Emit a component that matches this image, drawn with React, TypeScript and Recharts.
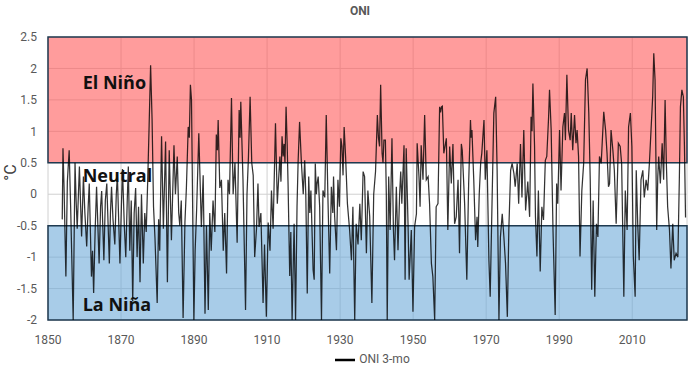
import {
  LineChart, Line, XAxis, YAxis, CartesianGrid, ReferenceArea, ReferenceDot, Legend
} from 'recharts';

const oni1853to1872: [number, number][] = [
  [1853.9, -0.4], [1854.1, 0.73], [1854.4, 0.1], [1854.9, -1.31], [1855.3, 0.2], [1855.8, 0.7],
  [1856.2, -0.2], [1856.9, -2.0], [1857.4, 0.5], [1857.7, -0.1], [1858.0, -0.55], [1858.6, 0.44],
  [1859.2, -0.67], [1859.7, 0.28], [1860.1, -0.3], [1860.6, -0.83], [1861.0, -0.2], [1861.3, 0.17],
  [1861.9, -1.31], [1862.2, -0.9], [1862.5, -1.57], [1862.9, -0.6], [1863.3, 0.12], [1863.6, -0.4],
  [1864.0, -1.1], [1864.4, -0.2], [1864.7, 0.05], [1865.3, -1.05], [1865.7, -0.1], [1866.1, 0.17],
  [1866.8, -1.1], [1867.1, -0.3], [1867.4, 0.12], [1867.8, -0.4], [1868.3, -0.8], [1868.7, 0.0],
  [1869.0, 0.3], [1869.7, -1.1], [1870.1, -0.2], [1870.4, 0.4], [1870.9, -0.5], [1871.3, -1.0],
  [1871.7, -0.1], [1872.0, 0.44],
];

const oni1872to1893: [number, number][] = [
  [1872.4, -0.9], [1872.8, -0.1], [1873.2, -1.7], [1873.6, -0.3], [1874.0, 0.1], [1874.4, -1.0],
  [1874.8, -0.2], [1875.2, -1.4], [1875.6, 0.0], [1876.1, -1.1], [1876.5, -0.3], [1876.9, -0.6],
  [1877.3, 0.2], [1877.7, 1.1], [1878.1, 2.05], [1878.5, 1.2], [1878.9, -0.2], [1879.3, -0.7],
  [1879.9, -1.73], [1880.3, -0.4], [1880.6, -0.9], [1881.1, 0.92], [1881.6, -0.55], [1882.2, 0.84],
  [1882.7, -1.4], [1883.2, 0.7], [1883.8, -0.73], [1884.5, 0.78], [1884.9, 0.0], [1885.4, 0.6],
  [1885.8, -0.3], [1886.1, -0.5], [1886.5, -0.1], [1887.0, -1.97], [1887.5, -0.45], [1887.9, 0.1],
  [1888.4, 1.07], [1888.7, 0.9], [1889.0, 1.74], [1889.3, 1.5], [1889.95, -2.0], [1890.3, -0.9],
  [1890.7, -0.25], [1891.3, 0.97], [1892.0, -0.52], [1892.5, 0.3], [1893.0, -1.9], [1893.4, -0.5],
];

const oni1893to1915: [number, number][] = [
  [1893.9, -1.84], [1894.3, -0.3], [1894.7, -0.9], [1895.2, -0.1], [1895.7, -0.6], [1896.1, 0.95],
  [1896.4, 0.7], [1896.6, 1.18], [1897.05, 0.1], [1897.5, 0.23], [1898.0, -0.9], [1898.4, -0.3],
  [1898.9, -1.26], [1899.3, 0.23], [1899.7, 0.0], [1900.25, 1.53], [1900.7, 0.0], [1901.2, 0.5],
  [1901.8, -0.77], [1902.35, 1.34], [1902.6, 0.9], [1902.8, 1.47], [1903.4, 0.23], [1904.1, -1.84],
  [1904.5, 0.0], [1904.9, 0.6], [1905.35, 1.55], [1905.8, 0.5], [1906.2, 0.3], [1906.6, -1.0],
  [1907.1, -0.55], [1907.5, 0.17], [1907.8, -0.52], [1908.3, -0.3], [1908.9, -1.73], [1909.3, -0.8],
  [1909.8, -1.95], [1910.3, -0.45], [1910.8, -0.9], [1911.2, 0.06], [1911.65, -0.55], [1912.3, 1.13],
  [1912.8, -0.15], [1913.5, 0.6], [1913.8, 0.2], [1914.1, 0.92], [1914.4, 0.6], [1914.65, 0.8],
  [1914.9, 0.5],
];

const oni1915to1937: [number, number][] = [
  [1915.2, 1.39], [1915.5, 0.8], [1915.75, 0.15], [1916.2, -1.3], [1916.5, -0.6], [1916.85, -2.0],
  [1917.4, -0.47], [1917.8, -2.0], [1918.2, -0.2], [1918.5, 0.52], [1918.9, 1.15], [1919.4, 0.5],
  [1919.9, 0.0], [1920.3, 0.54], [1920.6, 0.0], [1921.0, -1.58], [1921.4, 0.28], [1921.7, -0.3],
  [1922.0, 0.06], [1922.6, -1.2], [1922.9, -1.36], [1923.2, 0.49], [1923.5, 0.0], [1923.7, 0.17],
  [1924.0, 0.28], [1924.4, -0.2], [1924.9, -2.0], [1925.3, 0.06], [1925.8, -0.05], [1926.2, 1.26],
  [1926.7, -0.15], [1927.15, -1.26], [1927.6, 0.12], [1928.0, -0.3], [1928.2, 0.28], [1928.5, -0.35],
  [1929.0, -0.89], [1929.4, 0.23], [1929.8, -0.2], [1930.2, 0.89], [1930.5, 0.76], [1930.8, 0.3],
  [1931.1, 1.07], [1931.5, 0.6], [1932.0, -0.15], [1932.6, -0.57], [1933.1, -1.05], [1933.5, -0.2],
  [1934.0, -2.0], [1934.4, -0.47], [1934.9, -0.8], [1935.4, -0.15], [1935.8, -0.73], [1936.3, 0.36],
  [1936.7, 0.28], [1937.2, -0.94], [1937.6, 0.06],
];

const oni1938to1959: [number, number][] = [
  [1938.1, -0.35], [1938.7, -1.73], [1939.2, 0.0], [1939.7, 0.36], [1940.2, 1.26], [1940.5, 0.9],
  [1940.8, 0.76], [1941.1, 1.74], [1941.5, 0.65], [1941.75, 0.5], [1942.0, 0.86], [1942.4, 0.86],
  [1942.65, 0.0], [1942.9, -2.0], [1943.3, 0.28], [1943.7, -0.57], [1944.2, 0.89], [1944.6, -0.57],
  [1944.9, -1.05], [1945.4, 0.12], [1945.85, -0.89], [1946.3, 0.0], [1946.6, 0.36], [1946.9, -0.15],
  [1947.5, 0.78], [1947.8, -1.36], [1948.1, 0.73], [1948.6, -0.47], [1948.9, -1.36], [1949.5, -0.57],
  [1949.95, -1.87], [1950.4, -0.52], [1950.9, -0.31], [1951.1, 0.81], [1951.6, 0.28], [1951.9, -0.2],
  [1952.2, 0.78], [1952.7, 0.23], [1953.15, 1.26], [1953.6, 0.23], [1954.1, 0.28], [1954.5, -0.15],
  [1955.0, -1.1], [1955.4, -1.31], [1955.9, -2.0], [1956.3, -0.2], [1956.8, -0.15], [1957.25, 1.39],
  [1957.5, 1.3], [1957.75, 1.39], [1958.0, 1.4], [1958.4, 0.65], [1959.1, 0.89], [1959.5, -0.57],
];

const oni1960to1981: [number, number][] = [
  [1960.0, 0.76], [1960.45, 0.17], [1960.9, 0.8], [1961.35, -0.47], [1961.8, -0.36], [1962.3, 0.23],
  [1962.7, -0.94], [1963.2, 0.8], [1963.45, 0.7], [1964.1, -0.15], [1964.7, -1.36], [1965.2, 0.17],
  [1965.7, 1.18], [1965.9, 0.9], [1966.1, 1.02], [1966.6, 0.23], [1967.1, -0.73], [1967.5, -0.36],
  [1967.7, -0.84], [1968.1, 0.0], [1968.5, 0.5], [1968.8, 0.65], [1969.4, 1.18], [1969.75, 0.23],
  [1970.2, 0.7], [1970.75, -1.05], [1971.1, -1.63], [1971.6, -0.15], [1972.1, 1.29], [1972.6, 1.55],
  [1973.0, 0.38], [1973.5, -2.0], [1973.9, -0.68], [1974.4, -0.31], [1974.85, -0.68], [1975.3, -1.1],
  [1975.8, -1.95], [1976.2, -0.57], [1976.7, 0.38], [1977.1, 0.49], [1977.6, 0.33], [1977.95, 0.12],
  [1978.5, 0.49], [1978.9, -0.15], [1979.4, 0.8], [1979.8, -0.05], [1980.3, 1.02], [1980.8, -0.26],
  [1981.4, 0.2],
];

const oni1982to2003: [number, number][] = [
  [1981.9, -0.36], [1982.3, 1.23], [1982.55, 1.0], [1982.8, 1.76], [1983.25, 0.76], [1983.5, -0.36],
  [1983.9, -0.99], [1984.3, 0.06], [1984.8, -1.23], [1985.25, -0.2], [1985.7, -0.41], [1986.2, 0.54],
  [1986.6, 0.6], [1987.1, 1.23], [1987.35, 1.66], [1987.8, 1.02], [1988.3, -0.57], [1988.9, -1.92],
  [1989.3, 0.17], [1989.6, -0.15], [1990.1, 1.02], [1990.5, 0.06], [1991.0, 1.07], [1991.45, 1.29],
  [1991.7, 0.86], [1992.1, 1.9], [1992.55, 1.02], [1993.0, 0.86], [1993.3, 1.29], [1993.7, 0.7],
  [1994.2, 1.26], [1994.6, 0.81], [1994.9, 1.02], [1995.3, 0.6], [1995.7, -0.99], [1996.2, 0.06],
  [1996.7, 0.49], [1997.2, 1.82], [1997.65, 2.0], [1998.1, 1.29], [1998.5, 0.23], [1998.9, -1.52],
  [1999.3, -0.1], [1999.75, -1.63], [2000.2, -0.47], [2000.6, -0.68], [2001.03, 0.6], [2001.5, 0.49],
  [2002.2, 1.31], [2002.7, 1.02], [2003.1, 0.65], [2003.5, 0.12],
];

const oni2004to2024: [number, number][] = [
  [2003.8, 0.17], [2004.2, 1.02], [2004.7, 0.7], [2005.1, 0.38], [2005.6, -0.47], [2005.86, 0.06],
  [2006.2, 0.81], [2006.7, 0.76], [2007.1, 0.49], [2007.7, -1.63], [2008.1, 0.06], [2008.6, -0.57],
  [2009.0, 1.07], [2009.5, 1.29], [2009.9, 0.76], [2010.3, -0.99], [2010.8, -1.63], [2011.1, 0.38],
  [2011.5, -0.47], [2011.9, -1.05], [2012.4, 0.23], [2012.9, 0.38], [2013.3, -0.05], [2013.8, 0.23],
  [2014.25, 0.06], [2014.7, 0.49], [2015.15, 1.02], [2015.6, 1.55], [2015.9, 2.24], [2016.25, 1.82],
  [2016.7, -0.57], [2017.0, 0.28], [2017.25, 0.6], [2017.7, 0.17], [2018.2, 0.81], [2018.6, 0.23],
  [2019.0, 1.5], [2019.35, 0.49], [2019.7, -0.2], [2020.2, -0.57], [2020.6, -1.18], [2021.1, -0.47],
  [2021.5, -1.05], [2022.0, -0.94], [2022.5, -1.0], [2022.9, 0.23], [2023.2, 1.39], [2023.6, 1.66],
  [2024.0, 1.55], [2024.3, 0.76], [2024.6, -0.37],
];

const yearTicks = [1850, 1870, 1890, 1910, 1930, 1950, 1970, 1990, 2010];
const tempTicks = [-2, -1.5, -1, -0.5, 0, 0.5, 1, 1.5, 2, 2.5];

const data = [
  oni1853to1872, oni1872to1893, oni1893to1915, oni1915to1937,
  oni1938to1959, oni1960to1981, oni1982to2003, oni2004to2024,
].flat().map(([year, oni]) => ({ year, oni }));

const narrow = "'Liberation Sans Narrow', 'Roboto', sans-serif";
const bandFont = "'Open Sans', sans-serif";
const border = '#1f3a50';

const bandLabel = (value: string) => ({
  value,
  position: 'right' as const,
  offset: 0,
  fill: '#111',
  fontSize: 18,
  fontWeight: 700,
  fontFamily: bandFont,
});

export default function App() {
  return (
    <div style={{ position: 'absolute', left: 0, top: 0, width: 696, height: 370, background: '#fff' }}>
      <div
        style={{
          position: 'absolute', left: 24, width: 672, top: 4, textAlign: 'center',
          fontFamily: narrow, fontWeight: 700, fontSize: 12, color: '#595959',
        }}
      >
        ONI
      </div>
      <LineChart width={696} height={370} data={data} margin={{ top: 37, right: 9, left: 8, bottom: 0 }}>
        <CartesianGrid stroke="#d0d0d0" strokeWidth={1} />
        <ReferenceArea x1={1850} x2={2025} y1={0.5} y2={2.5} fill="#ff5a5a" fillOpacity={0.6} stroke={border} strokeWidth={1.5} />
        <ReferenceArea x1={1850} x2={2025} y1={-2} y2={-0.5} fill="#6eaad9" fillOpacity={0.6} stroke={border} strokeWidth={1.5} />
        <XAxis
          dataKey="year"
          type="number"
          domain={[1850, 2025]}
          ticks={yearTicks}
          interval={0}
          height={30}
          axisLine={false}
          tickLine={false}
          tickMargin={9}
          tick={{ fontSize: 12, fill: '#595959', fontFamily: narrow }}
        />
        <YAxis
          type="number"
          domain={[-2, 2.5]}
          ticks={tempTicks}
          allowDataOverflow
          width={40}
          axisLine={false}
          tickLine={false}
          tickSize={0}
          tickMargin={11}
          tick={{ fontSize: 12, fill: '#595959', fontFamily: narrow }}
          label={{ value: '°C', angle: -90, position: 'center', dx: -18, dy: -6, fill: '#404040', fontSize: 16, fontFamily: narrow }}
        />
        <Line
          type="linear"
          dataKey="oni"
          name="ONI 3-mo"
          stroke="#000"
          strokeOpacity={0.8}
          strokeWidth={1.25}
          dot={false}
          activeDot={false}
          isAnimationActive={false}
        />
        <ReferenceDot x={1859.5} y={1.78} r={0} fill="none" stroke="none" label={bandLabel('El Niño')} />
        <ReferenceDot x={1859.5} y={0.29} r={0} fill="none" stroke="none" label={bandLabel('Neutral')} />
        <ReferenceDot x={1859.5} y={-1.76} r={0} fill="none" stroke="none" label={bandLabel('La Niña')} />
        <Legend
          verticalAlign="bottom"
          iconType="plainline"
          iconSize={20}
          wrapperStyle={{ fontFamily: narrow, fontSize: 12, bottom: 0, left: 58, width: 639 }}
          formatter={(value: string) => <span style={{ color: '#595959' }}>{value}</span>}
        />
      </LineChart>
    </div>
  );
}
